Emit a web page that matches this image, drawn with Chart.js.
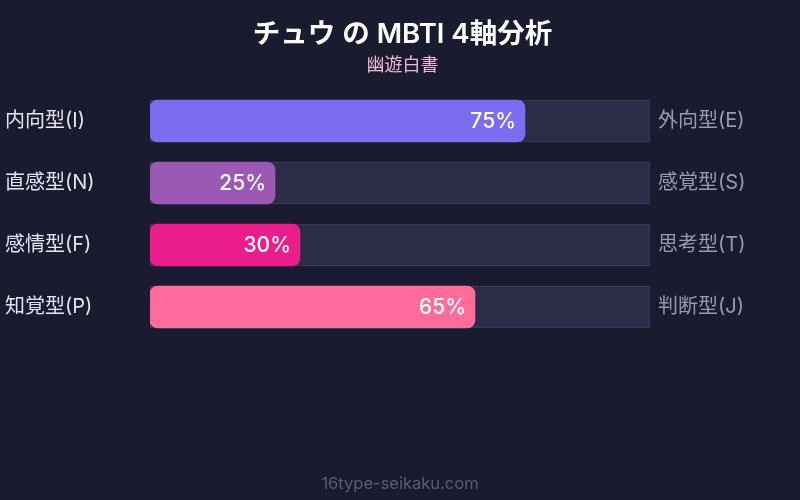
<!DOCTYPE html>
<html>
<head>
<meta charset="utf-8">
<script src="https://cdn.jsdelivr.net/npm/chart.js@4"></script>
<style>
html,body{margin:0;padding:0;background:#1a1b2e;}
#wrap{width:800px;height:500px;position:relative;}
</style>
</head>
<body>
<div id="wrap"><canvas id="c" width="800" height="500"></canvas></div>
<script>
const leftLabels = ['内向型(I)', '直感型(N)', '感情型(F)', '知覚型(P)'];
const rightLabels = ['外向型(E)', '感覚型(S)', '思考型(T)', '判断型(J)'];
const values = [75, 25, 30, 65];
const trackValues = [100, 100, 100, 100];
const barColors = ['#7b6cf0', '#9b59b6', '#e91e8c', '#ff6b9a'];
const titleText = 'チュウ の MBTI 4軸分析';
const subtitleText = '幽遊白書';
const footerText = '16type-seikaku.com';

const FONT = "Inter, 'Noto Sans CJK JP', sans-serif";

const bgPlugin = {
  id: 'bg',
  beforeDraw(chart) {
    const ctx = chart.ctx;
    ctx.save();
    ctx.fillStyle = '#1a1b2e';
    ctx.fillRect(0, 0, chart.width, chart.height);
    ctx.restore();
  }
};

const valuePlugin = {
  id: 'values',
  afterDatasetsDraw(chart) {
    const ctx = chart.ctx;
    const meta = chart.getDatasetMeta(0);
    ctx.save();
    ctx.font = "500 21px " + FONT;
    ctx.fillStyle = '#ffffff';
    ctx.textAlign = 'right';
    ctx.textBaseline = 'middle';
    meta.data.forEach((bar, i) => {
      ctx.fillText(values[i] + '%', bar.x - 9, bar.y + 1);
    });
    ctx.restore();
  }
};

const footerPlugin = {
  id: 'footer',
  afterDraw(chart) {
    const ctx = chart.ctx;
    ctx.save();
    ctx.font = "16.5px " + FONT;
    ctx.fillStyle = '#5c5c7a';
    ctx.textAlign = 'center';
    ctx.textBaseline = 'middle';
    ctx.fillText(footerText, chart.width / 2, 484);
    ctx.restore();
  }
};

new Chart(document.getElementById('c'), {
  type: 'bar',
  data: {
    labels: leftLabels,
    datasets: [
      {
        data: values,
        backgroundColor: barColors,
        borderRadius: 8,
        borderSkipped: false,
        barThickness: 42,
        grouped: false,
        order: 0
      },
      {
        data: trackValues,
        backgroundColor: '#2c2b48',
        borderColor: '#3f3d62',
        borderWidth: 1,
        borderSkipped: false,
        barThickness: 42,
        grouped: false,
        order: 1
      }
    ]
  },
  options: {
    indexAxis: 'y',
    responsive: false,
    animation: false,
    events: [],
    layout: { padding: { top: 0, bottom: 162, left: 5, right: 0 } },
    plugins: {
      legend: { display: false },
      tooltip: { enabled: false },
      title: {
        display: true,
        text: titleText,
        color: '#ffffff',
        font: { family: FONT, size: 27.5, weight: '600' },
        padding: { top: 18.5, bottom: 0 }
      },
      subtitle: {
        display: true,
        text: subtitleText,
        color: '#f0b8dc',
        font: { family: FONT, size: 18 },
        padding: { top: 3.7, bottom: 13.2 }
      }
    },
    scales: {
      x: {
        display: false,
        min: 0,
        max: 100
      },
      y: {
        position: 'left',
        grid: { display: false },
        border: { display: false },
        ticks: {
          color: '#e4e4f2',
          font: { family: FONT, size: 20 },
          crossAlign: 'far',
          padding: 0
        },
        afterFit(scale) { scale.width = 145; }
      },
      y2: {
        type: 'category',
        labels: rightLabels,
        position: 'right',
        offset: true,
        grid: { display: false },
        border: { display: false },
        ticks: {
          color: '#9a9ab2',
          font: { family: FONT, size: 20 },
          crossAlign: 'near',
          padding: 0
        },
        afterFit(scale) { scale.width = 150; }
      }
    }
  },
  plugins: [bgPlugin, valuePlugin, footerPlugin]
});
</script>
</body>
</html>
